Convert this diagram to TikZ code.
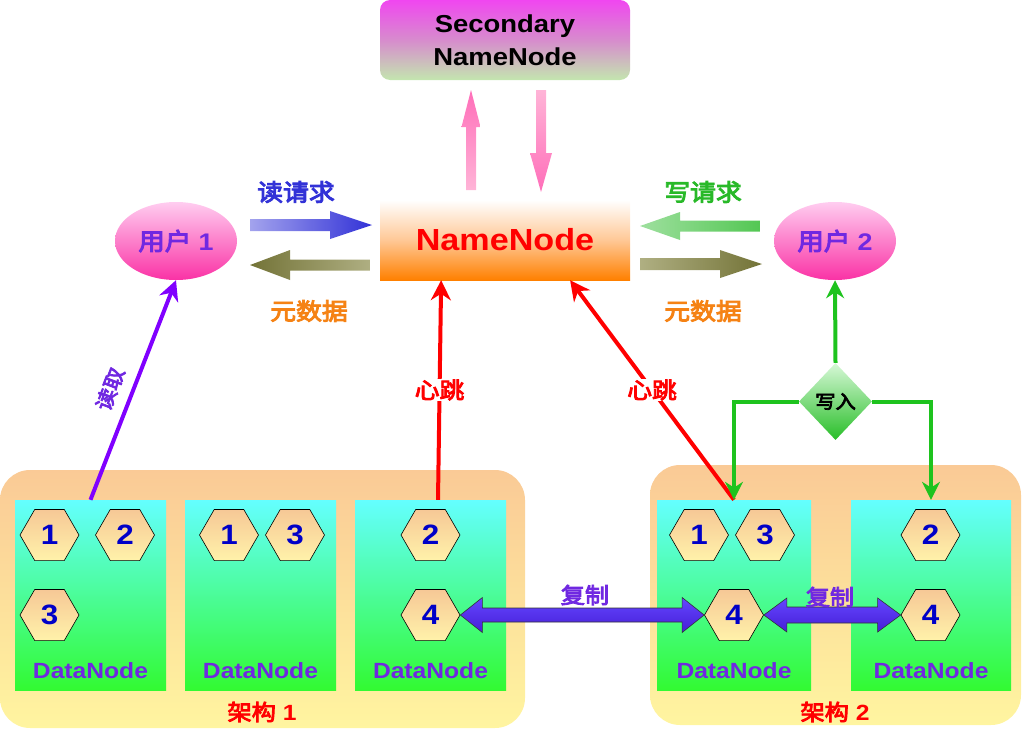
\documentclass[tikz,border=0pt]{standalone}
\usepackage{fontspec}
\setmainfont{Liberation Sans}[FakeStretch=1.12]
\newfontfamily\cjk{Noto Sans CJK SC}[FakeStretch=1.1, FakeBold=4]
\newcommand\zh[1]{{\cjk\mdseries #1}}
\usetikzlibrary{shapes.geometric,calc,arrows.meta}
\definecolor{txtpurple}{RGB}{112,40,225}
\definecolor{txtblue}{RGB}{50,50,215}
\definecolor{txtgreen}{RGB}{40,185,40}
\definecolor{txtorange}{RGB}{245,130,20}
\definecolor{numblue}{RGB}{0,0,200}
\definecolor{snntop}{RGB}{240,70,240}
\definecolor{snnmid}{RGB}{215,140,205}
\definecolor{snnbot}{RGB}{195,230,175}
\definecolor{nnbot}{RGB}{255,128,0}
\definecolor{nnmid}{RGB}{255,200,150}
\definecolor{elltop}{RGB}{255,205,240}
\definecolor{ellbot}{RGB}{250,50,165}
\definecolor{conttop}{RGB}{250,202,150}
\definecolor{contbot}{RGB}{255,245,160}
\definecolor{dncyan}{RGB}{100,255,255}
\definecolor{dngreen}{RGB}{50,250,50}
\definecolor{hextop}{RGB}{246,200,150}
\definecolor{hexbot}{RGB}{255,242,170}
\definecolor{diatop}{RGB}{215,248,215}
\definecolor{diabot}{RGB}{40,190,40}
\definecolor{wrgreen}{RGB}{30,195,30}
\definecolor{readpurple}{RGB}{128,0,255}
\definecolor{pinkdark}{RGB}{255,110,185}
\definecolor{pinklight}{RGB}{255,180,215}
\definecolor{olivedark}{RGB}{115,115,55}
\definecolor{olivelight}{RGB}{175,175,130}
\definecolor{dbltop}{RGB}{100,70,255}
\definecolor{dblbot}{RGB}{70,30,215}
% fat single arrow: #1 style, #2 from, #3 to, #4 half shaft, #5 half head, #6 head length
\newcommand\fatarrow[6]{%
  \coordinate (fa-h) at ($(#3)!#6!(#2)$);
  \path[#1] ($(#2)!#4!90:(#3)$) -- ($(fa-h)!#4!-90:(#2)$) -- ($(fa-h)!#5!-90:(#2)$)
    -- (#3) -- ($(fa-h)!#5!90:(#2)$) -- ($(fa-h)!#4!90:(#2)$) -- ($(#2)!#4!-90:(#3)$) -- cycle;}
% fat double arrow
\newcommand\dblarrow[6]{%
  \coordinate (da-a) at ($(#2)!#6!(#3)$);
  \coordinate (da-b) at ($(#3)!#6!(#2)$);
  \path[#1] (#2) -- ($(da-a)!#5!90:(#3)$) -- ($(da-a)!#4!90:(#3)$) -- ($(da-b)!#4!-90:(#2)$)
    -- ($(da-b)!#5!-90:(#2)$) -- (#3) -- ($(da-b)!#5!90:(#2)$) -- ($(da-b)!#4!90:(#2)$)
    -- ($(da-a)!#4!-90:(#3)$) -- ($(da-a)!#5!-90:(#3)$) -- cycle;}
\begin{document}
\begin{tikzpicture}[x=1pt,y=-1pt,
  bigfont/.style={font=\fontsize{#1}{#1}\selectfont\bfseries},
  cont/.style={rectangle, rounded corners=30pt, top color=conttop, bottom color=contbot, inner sep=0pt},
  dn/.style={rectangle, minimum width=151pt, minimum height=190pt, inner sep=0pt, top color=dncyan, bottom color=dngreen},
  dnlabel/.style={text=txtpurple, bigfont=22},
  hexa/.style={regular polygon, regular polygon sides=6, minimum size=59pt, inner sep=0pt, draw=black, line width=0.6pt, top color=hextop, bottom color=hexbot, text=numblue, bigfont=28},
  user/.style={ellipse, minimum width=122pt, minimum height=78pt, inner sep=0pt, top color=elltop, bottom color=ellbot, text=txtpurple, bigfont=24},
  hb/.style={draw=red, line width=4pt, -{Stealth[length=20pt,width=20pt]}},
  hblabel/.style={fill=white, text=red, inner sep=1pt, bigfont=22.5},
  wrline/.style={draw=wrgreen, line width=4pt, -{Stealth[length=18pt,width=18pt]}},
  dblstyle/.style={draw=black!80, line width=0.6pt, top color=dbltop, bottom color=dblbot},
]
\useasboundingbox (0,0) rectangle (1023,731);

% NameNode and Secondary NameNode
\node[rectangle, rounded corners=10pt, minimum width=250pt, minimum height=80pt, inner sep=0pt,
  top color=snntop, bottom color=snnbot, middle color=snnmid, align=center, bigfont=24.5,
  text=black] (snn) at (505,40) {Secondary\\[9pt]NameNode};
\node[rectangle, minimum width=250pt, minimum height=80pt, inner sep=0pt,
  top color=white, bottom color=nnbot, middle color=nnmid, text=red, bigfont=30.5] (nn) at (505,240) {NameNode};

% users
\node[user] (u1) at (176,241) {\zh{用户} 1};
\node[user] (u2) at (835,241) {\zh{用户} 2};

% containers
\node[cont, minimum width=525pt, minimum height=258pt] (c1) at (262.5,599) {};
\node[cont, minimum width=371pt, minimum height=260pt] (c2) at (835.5,595) {};
\node[text=red, bigfont=22] (c1lbl) at (262,712) {\zh{架构} 1};
\node[text=red, bigfont=22] (c2lbl) at (835,712) {\zh{架构} 2};

% DataNodes
\node[dn] (d1) at (90.5,595) {};
\node[dn] (d2) at (260.5,595) {};
\node[dn] (d3) at (430.5,595) {};
\node[dn, minimum width=154pt] (d4) at (734,595) {};
\node[dn, minimum width=160pt] (d5) at (931,595) {};
\foreach \n/\x in {d1/90.5,d2/260.5,d3/430.5,d4/734,d5/931}
  \node[dnlabel] (\n-lbl) at (\x,671) {DataNode};

% blocks
\node[hexa] (b11) at (49.5,535) {1};
\node[hexa] (b12) at (125,535) {2};
\node[hexa] (b13) at (49.5,615) {3};
\node[hexa] (b21) at (229,535) {1};
\node[hexa] (b23) at (295,535) {3};
\node[hexa] (b32) at (430.5,535) {2};
\node[hexa] (b34) at (430.5,615) {4};
\node[hexa] (b41) at (699,535) {1};
\node[hexa] (b43) at (765,535) {3};
\node[hexa] (b44) at (734,615) {4};
\node[hexa] (b52) at (930.5,535) {2};
\node[hexa] (b54) at (930.5,615) {4};

% write decision
\node[diamond, minimum width=73pt, minimum height=77pt, inner sep=0pt, aspect=1,
  top color=diatop, bottom color=diabot, text=black, bigfont=18.5] (wr) at (835.5,401.5) {\zh{写入}};

% fat arrows between users and NameNode
\coordinate (rq1s) at (250,225); \coordinate (rq1e) at (372,225);
\coordinate (md1s) at (370,265); \coordinate (md1e) at (250,265);
\coordinate (rq2s) at (760,226); \coordinate (rq2e) at (640,226);
\coordinate (md2s) at (640,264); \coordinate (md2e) at (762,264);
\fatarrow{left color=txtblue!45, right color=txtblue}{rq1s}{rq1e}{6pt}{14pt}{42pt}
\fatarrow{left color=olivedark, right color=olivelight}{md1s}{md1e}{5.5pt}{15pt}{40pt}
\fatarrow{left color=txtgreen!45, right color=txtgreen!80}{rq2s}{rq2e}{5.5pt}{14pt}{40pt}
\fatarrow{left color=olivelight, right color=olivedark}{md2s}{md2e}{6pt}{14pt}{42pt}
\node[text=txtblue, bigfont=23.5] (rq1lbl) at (296,192) {\zh{读请求}};
\node[text=txtorange, bigfont=23.5] (md1lbl) at (309,311) {\zh{元数据}};
\node[text=txtgreen, bigfont=23.5] (rq2lbl) at (703,192) {\zh{写请求}};
\node[text=txtorange, bigfont=23.5] (md2lbl) at (703,311) {\zh{元数据}};

% NameNode <-> Secondary NameNode
\coordinate (upS) at (471,190); \coordinate (upE) at (471,90);
\coordinate (dnS) at (541,90); \coordinate (dnE) at (541,192);
\fatarrow{top color=pinkdark, bottom color=pinklight}{upS}{upE}{5pt}{9.5pt}{37pt}
\fatarrow{top color=pinklight, bottom color=pinkdark}{dnS}{dnE}{5pt}{11pt}{39pt}

% heartbeats
\coordinate (hb1s) at ($(d3.north)+(7.5,0)$);
\coordinate (hb1e) at ($(nn.south west)!0.245!(nn.south east)$);
\coordinate (hb2e) at ($(nn.south west)!0.76!(nn.south east)$);
\draw[hb] (hb1s) -- (hb1e) node[midway, hblabel] {\zh{心跳}};
\draw[hb] (d4.north) -- (hb2e) node[midway, hblabel] {\zh{心跳}};

% read
\draw[draw=readpurple, line width=4pt, -{Stealth[length=20pt,width=20pt]}] (d1.north) -- (u1.south);
\node[text=txtpurple, rotate=69, bigfont=20] (rdlbl) at (110,389) {\zh{读取}};

% write paths
\draw[wrline] (wr.north) -- (u2.south);
\draw[wrline] (wr.west) -| (d4.north);
\draw[wrline] (wr.east) -| (d5.north);

% replication
\dblarrow{dblstyle}{b34.east}{b44.west}{7pt}{17.5pt}{22pt}
\dblarrow{dblstyle}{b44.east}{b54.west}{8pt}{17pt}{23pt}
\node[text=txtpurple, bigfont=22] (rep1) at (585,595) {\zh{复制}};
\node[text=txtpurple, bigfont=22] (rep2) at (830,597) {\zh{复制}};
\end{tikzpicture}
\end{document}
